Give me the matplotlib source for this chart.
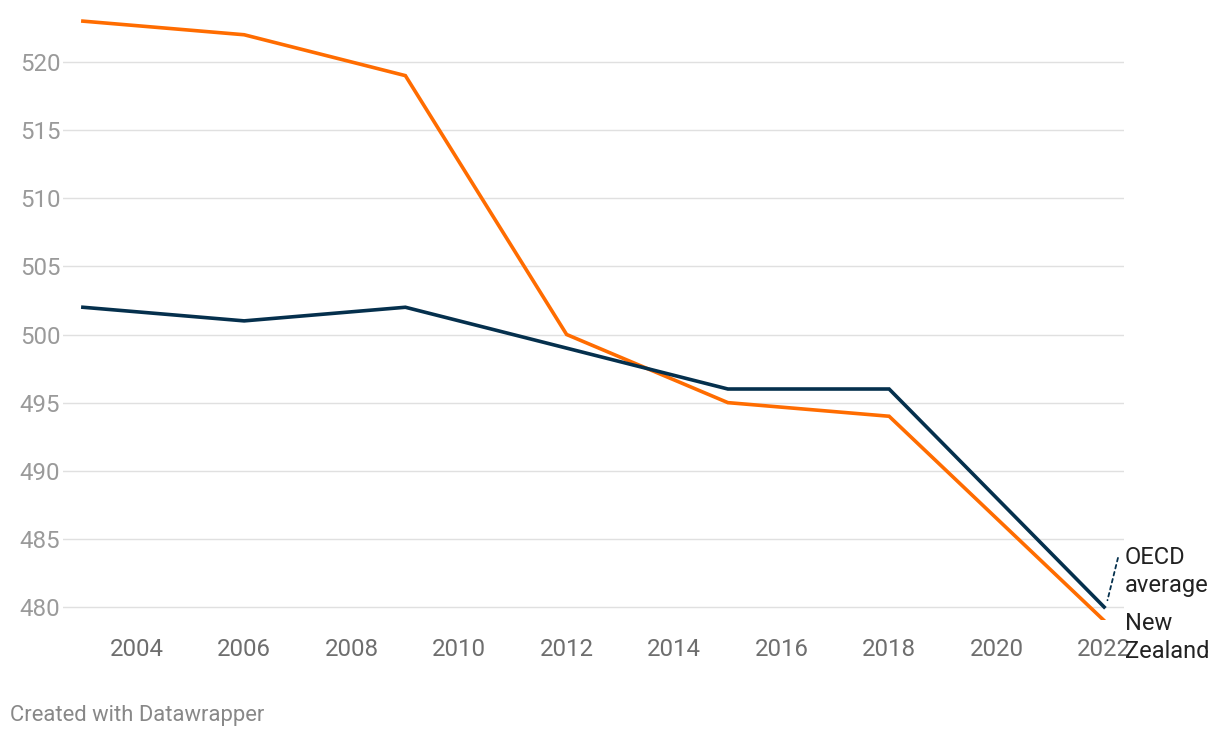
import matplotlib.pyplot as plt

plt.rcParams['font.family'] = ['Roboto', 'DejaVu Sans']

years = [2003, 2006, 2009, 2012, 2015, 2018, 2022]
new_zealand = [523, 522, 519, 500, 495, 494, 479]
oecd_average = [502, 501, 502, 499, 496, 496, 480]

y_ticks = [480, 485, 490, 495, 500, 505, 510, 515, 520]
x_ticks = [2004, 2006, 2008, 2010, 2012, 2014, 2016, 2018, 2020, 2022]

orange = '#ff6c00'
navy = '#05304d'

W, H = 1220, 738
fig = plt.figure(figsize=(W / 100, H / 100), dpi=100)
ax = fig.add_axes([63 / W, (H - 620) / H, (1124 - 63) / W, 610 / H])

ax.set_xlim(2002.63, 2022.37)
ax.set_ylim(479.046, 523.817)

# gridlines
for v in y_ticks:
    ax.axhline(v, color='#e0e0e0', lw=1.0, zorder=0)

ax.plot(years, oecd_average, color=navy, lw=2.6, solid_joinstyle='miter', zorder=3)
ax.plot(years, new_zealand, color=orange, lw=2.6, solid_joinstyle='miter', zorder=2)

for s in ax.spines.values():
    s.set_visible(False)

ax.set_yticks(y_ticks)
ax.set_yticklabels([str(v) for v in y_ticks], color='#9a9a9a', fontsize=17.3)
ax.set_xticks(x_ticks)
ax.set_xticklabels([str(v) for v in x_ticks], color='#6e6e6e', fontsize=17.3)
ax.tick_params(axis='y', length=0, pad=2)
ax.tick_params(axis='x', length=0, pad=13)

# line labels (in the original, "Zealand" also runs into the 2022 tick label)
ax.annotate('', xy=(2022.05, 480.3), xytext=(2022.27, 483.8),
            arrowprops=dict(arrowstyle='-', color=navy, lw=1.3, linestyle=(0, (2, 2))),
            annotation_clip=False)
ax.text(2022.38, 484.45, 'OECD\naverage', fontsize=17, color='#222222', va='top',
        ha='left', linespacing=1.25, clip_on=False)
ax.text(2022.38, 479.6, 'New\nZealand', fontsize=17, color='#222222', va='top',
        ha='left', linespacing=1.25, clip_on=False)

fig.text(10 / W, 1 - 715 / H, 'Created with Datawrapper', fontsize=15.8,
         color='#888888', va='center', ha='left')

fig.savefig('out.png', dpi=100, facecolor='white')
